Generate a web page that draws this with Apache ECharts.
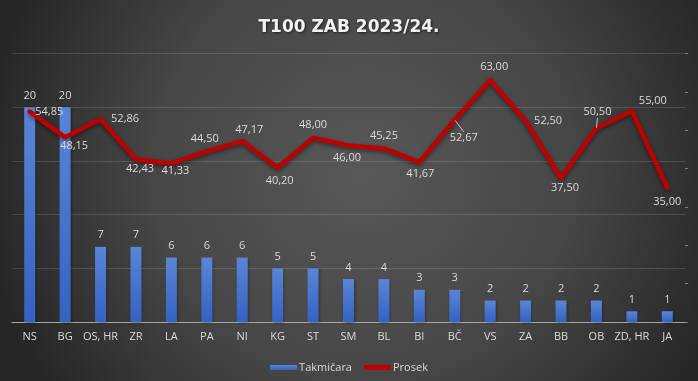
<!DOCTYPE html>
<html>
<head>
<meta charset="utf-8">
<script src="https://cdn.jsdelivr.net/npm/echarts@6/dist/echarts.min.js"></script>
<style>
html,body{margin:0;padding:0;background:#333;}
#c{width:698px;height:381px;}
</style>
</head>
<body>
<div id="c"></div>
<script>
// ---- data ----
var categories = ['NS','BG','OS, HR','ZR','LA','PA','NI','KG','ST','SM','BL','BI','BČ','VS','ZA','BB','OB','ZD, HR','JA'];
var takmicara = [20,20,7,7,6,6,6,5,5,4,4,3,3,2,2,2,2,1,1];
var prosek = [54.85,48.15,52.86,42.43,41.33,44.50,47.17,40.20,48.00,46.00,45.25,41.67,52.67,63.00,52.50,37.50,50.50,55.00,35.00];
var seriesNames = ['Takmičara','Prosek'];
var titleText = 'T100 ZAB 2023/24.';

// ---- label placement (styling only) ----
var lineLabelOffsets = [[19.5,0.5],[9,9],[24.5,0],[4,10],[4,7],[-2,-12],[7,-11],[2,13],[0,-13.5],[-1.5,12],[0,-13],[1,11.5],[9,17.5],[4,-13],[22.5,0],[4,10],[1,-16],[21,-10],[0,14]];
var leaderIdx = [12,16];

var txt = '#d9d9d9';
var font = 'Open Sans';

var lineData = prosek.map(function(v,i){
  var o = {value:v};
  if (leaderIdx.indexOf(i) >= 0) {
    o.labelLine = {show:true, lineStyle:{color:'#bfbfbf', width:1}};
  }
  return o;
});

var chart = echarts.init(document.getElementById('c'), null, {renderer:'canvas'});
chart.setOption({
  animation:false,
  backgroundColor:{
    type:'radial', x:0.52, y:0.45, r:1.0,
    colorStops:[{offset:0,color:'#585858'},{offset:0.55,color:'#464646'},{offset:1,color:'#262626'}]
  },
  title:{
    text:titleText, left:'center', top:14,
    textStyle:{color:'#f2f2f2', fontFamily:'DejaVu Sans', fontWeight:'bold', fontSize:17,
      textShadowColor:'rgba(0,0,0,0.6)', textShadowBlur:3, textShadowOffsetX:1, textShadowOffsetY:1}
  },
  legend:{
    data:[{name:seriesNames[0], icon:'rect'},{name:seriesNames[1], icon:'roundRect'}],
    left:'center', top:357, itemWidth:27, itemHeight:5, itemGap:12,
    textStyle:{color:txt, fontFamily:font, fontSize:11, padding:[0,0,0,-3]}
  },
  grid:{left:12, right:13, top:53.5, bottom:59, containLabel:false},
  xAxis:{
    type:'category', data:categories, boundaryGap:true,
    axisLine:{show:true, lineStyle:{color:'#a6a6a6', width:1}},
    axisTick:{show:false},
    axisLabel:{color:txt, fontFamily:font, fontSize:11, margin:9, interval:0}
  },
  yAxis:[
    {type:'value', min:0, max:25, interval:5,
     axisLabel:{show:false}, axisLine:{show:false},
     axisTick:{show:false},
     splitLine:{show:true, lineStyle:{color:'rgba(255,255,255,0.13)', width:1}}},
    {type:'value', min:0, max:70, interval:10, position:'right',
     axisLabel:{show:false}, axisLine:{show:false},
     axisTick:{show:true, length:3, lineStyle:{color:'#808080'}},
     splitLine:{show:false}}
  ],
  series:[
    {
      name:seriesNames[0], type:'bar', yAxisIndex:0, data:takmicara, barWidth:11,
      itemStyle:{
        color:{type:'linear', x:0,y:0,x2:0,y2:1, colorStops:[{offset:0,color:'#5b85d6'},{offset:1,color:'#3362c2'}]},
        shadowColor:'rgba(0,0,0,0.4)', shadowBlur:3, shadowOffsetX:1, shadowOffsetY:1
      },
      label:{show:true, position:'top', distance:6, color:txt, fontFamily:font, fontSize:11}
    },
    {
      name:seriesNames[1], type:'line', yAxisIndex:1, data:lineData,
      symbol:'circle', symbolSize:1, showSymbol:true,
      lineStyle:{color:'#c00000', width:4.5, join:'round', cap:'round',
        shadowColor:'rgba(0,0,0,0.45)', shadowBlur:4, shadowOffsetY:2},
      itemStyle:{color:'#c00000'},
      label:{show:true, position:'inside', color:txt, fontFamily:font, fontSize:11,
        formatter:function(p){return p.value.toFixed(2).replace('.',',');}},
      labelLayout:function(p){
        var o = lineLabelOffsets[p.dataIndex];
        return {dx:o[0], dy:o[1]};
      },
      z:3
    }
  ]
});
</script>
</body>
</html>
